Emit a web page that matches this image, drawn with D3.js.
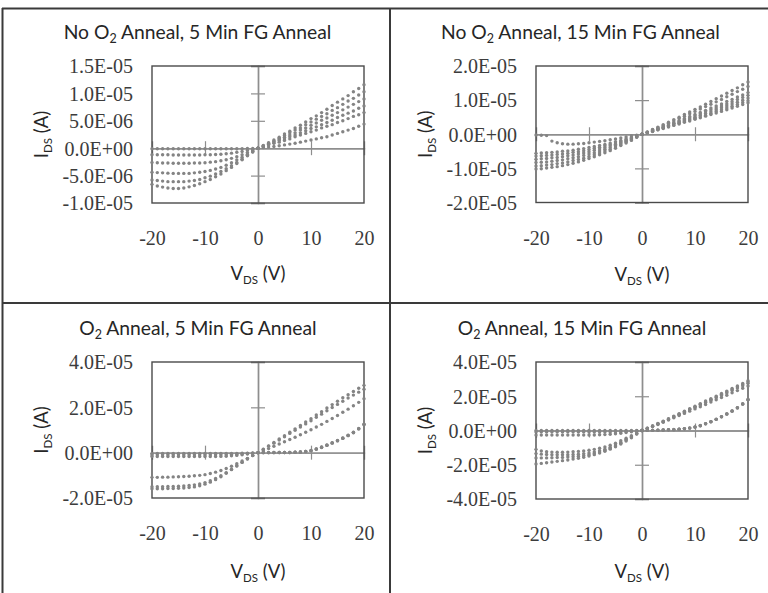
<!DOCTYPE html>
<html><head><meta charset="utf-8">
<script src="https://cdn.jsdelivr.net/npm/d3@7/dist/d3.min.js"></script>
<style>
html,body{margin:0;padding:0;background:#fff;}
svg{display:block;}
</style>
</head><body>
<svg id="chart" width="768" height="593"></svg>
<script>
// Drain voltage sweep (V)
const vds = [-20,-19,-18,-17,-16,-15,-14,-13,-12,-11,-10,-9,-8,-7,-6,-5,-4,-3,-2,-1,0,1,2,3,4,5,6,7,8,9,10,11,12,13,14,15,16,17,18,19,20];

// Drain currents in microamps (multiplied by 1e-6 when drawn)
// Panel 1: No O2 Anneal, 5 Min FG Anneal
const p1a = [-0.1,-0.1,-0.1,-0.1,-0.1,-0.1,-0.1,-0.1,-0.1,-0.1,-0.1,-0.1,-0.1,-0.1,-0.1,-0.1,-0.1,-0.1,-0.05,-0.05,0,0.1,0.2,0.3,0.45,0.6,0.75,0.9,1.1,1.3,1.5,1.7,1.9,2.1,2.4,2.7,3.0,3.3,3.6,4.0,4.4];
const p1b = [-1.2,-1.2,-1.2,-1.2,-1.25,-1.25,-1.25,-1.25,-1.25,-1.25,-1.2,-1.2,-1.15,-1.1,-1.0,-0.9,-0.75,-0.6,-0.4,-0.2,0,0.3,0.6,0.9,1.1,1.4,1.7,2.1,2.4,2.7,3.0,3.3,3.7,4.0,4.3,4.7,5.0,5.4,5.8,6.1,6.5];
const p1c = [-2.6,-2.65,-2.7,-2.7,-2.75,-2.75,-2.75,-2.75,-2.7,-2.7,-2.65,-2.55,-2.45,-2.3,-2.1,-1.85,-1.55,-1.2,-0.8,-0.4,0,0.3,0.7,1.0,1.4,1.7,2.1,2.4,2.8,3.2,3.6,3.9,4.3,4.7,5.1,5.6,6.0,6.4,6.8,7.3,7.7];
const p1d = [-4.4,-4.45,-4.5,-4.55,-4.6,-4.6,-4.6,-4.6,-4.5,-4.4,-4.25,-4.05,-3.8,-3.5,-3.1,-2.65,-2.15,-1.65,-1.1,-0.55,0,0.4,0.8,1.2,1.6,2.0,2.4,2.8,3.3,3.7,4.2,4.6,5.1,5.5,6.0,6.5,7.0,7.5,8.0,8.5,9.0];
const p1e = [-5.8,-5.9,-6.0,-6.1,-6.1,-6.1,-6.1,-6.0,-5.9,-5.7,-5.4,-5.1,-4.7,-4.25,-3.75,-3.2,-2.6,-2.0,-1.3,-0.65,0,0.4,0.9,1.3,1.8,2.3,2.8,3.3,3.7,4.3,4.8,5.3,5.8,6.3,6.9,7.4,8.0,8.6,9.1,9.7,10.3];
const p1f = [-6.6,-6.9,-7.1,-7.25,-7.35,-7.35,-7.25,-7.05,-6.8,-6.5,-6.1,-5.7,-5.2,-4.7,-4.1,-3.5,-2.8,-2.1,-1.4,-0.7,0,0.5,1.0,1.5,2.0,2.6,3.1,3.7,4.2,4.8,5.4,5.9,6.5,7.1,7.8,8.4,9.0,9.6,10.3,10.9,11.6];

// Panel 2: No O2 Anneal, 15 Min FG Anneal
const p2a = [-0.2,-0.3,-0.4,-2.0,-2.5,-2.8,-2.9,-2.9,-2.8,-2.7,-2.5,-2.3,-2.1,-1.9,-1.6,-1.4,-1.1,-0.8,-0.5,-0.25,0,0.4,0.8,1.3,1.7,2.1,2.6,3.0,3.5,3.9,4.4,4.8,5.3,5.8,6.2,6.7,7.2,7.7,8.2,8.7,9.2];
const p2b = [-5.6,-5.5,-5.4,-5.3,-5.2,-5.0,-4.9,-4.7,-4.4,-4.2,-3.9,-3.6,-3.3,-3.0,-2.6,-2.2,-1.8,-1.4,-1.0,-0.5,0,0.4,0.9,1.3,1.8,2.3,2.7,3.2,3.7,4.2,4.7,5.1,5.6,6.1,6.7,7.2,7.7,8.2,8.7,9.3,9.8];
const p2c = [-6.4,-6.3,-6.2,-6.1,-5.9,-5.8,-5.6,-5.3,-5.1,-4.8,-4.5,-4.1,-3.8,-3.4,-3.0,-2.6,-2.1,-1.6,-1.1,-0.6,0,0.5,1.0,1.5,2.0,2.5,3.0,3.5,4.0,4.5,5.0,5.6,6.1,6.6,7.2,7.8,8.3,8.9,9.4,10.0,10.6];
const p2d = [-7.3,-7.2,-7.1,-6.9,-6.8,-6.6,-6.3,-6.1,-5.8,-5.5,-5.1,-4.7,-4.3,-3.9,-3.4,-2.9,-2.4,-1.8,-1.3,-0.6,0,0.5,1.0,1.6,2.1,2.6,3.2,3.7,4.3,4.8,5.4,6.0,6.6,7.2,7.7,8.3,8.9,9.5,10.2,10.8,11.4];
const p2e = [-8.3,-8.2,-8.1,-7.9,-7.7,-7.5,-7.2,-6.9,-6.6,-6.2,-5.8,-5.4,-4.9,-4.4,-3.9,-3.3,-2.7,-2.1,-1.4,-0.7,0,0.55,1.1,1.7,2.2,2.8,3.4,4.0,4.6,5.2,5.8,6.4,7.0,7.7,8.3,8.9,9.6,10.2,10.9,11.5,12.2];
const p2f = [-9.3,-9.2,-9.0,-8.9,-8.6,-8.4,-8.1,-7.7,-7.4,-7.0,-6.5,-6.0,-5.5,-4.9,-4.4,-3.7,-3.1,-2.3,-1.6,-0.8,0,0.6,1.3,1.9,2.6,3.2,3.9,4.6,5.3,6.0,6.7,7.4,8.1,8.8,9.5,10.2,11.0,11.7,12.5,13.2,14.0];
const p2g = [-10.2,-10.1,-9.9,-9.7,-9.5,-9.2,-8.9,-8.5,-8.1,-7.6,-7.1,-6.6,-6.0,-5.4,-4.8,-4.1,-3.3,-2.6,-1.8,-0.9,0,0.7,1.4,2.1,2.8,3.5,4.3,5.0,5.8,6.5,7.3,8.0,8.8,9.6,10.4,11.2,12.0,12.8,13.6,14.5,15.3];

// Panel 3: O2 Anneal, 5 Min FG Anneal
const p3a = [-15.9,-15.9,-15.9,-15.8,-15.8,-15.7,-15.6,-15.4,-15.1,-14.6,-13.9,-13.0,-11.9,-10.6,-9.1,-7.5,-5.9,-4.3,-2.8,-1.3,0,1.5,3.0,4.5,6.0,7.5,9.0,10.5,12.0,13.5,15.0,16.6,18.1,19.7,21.2,22.7,24.2,25.6,27.0,28.4,29.7];
const p3b = [-15.0,-15.0,-15.0,-14.9,-14.9,-14.8,-14.7,-14.5,-14.2,-13.8,-13.2,-12.4,-11.4,-10.2,-8.8,-7.3,-5.8,-4.2,-2.7,-1.3,0,1.4,2.8,4.2,5.6,7.0,8.5,9.9,11.3,12.7,14.1,15.6,17.0,18.5,19.9,21.3,22.7,24.1,25.4,26.7,28.0];
const p3c = [-10.9,-10.9,-10.8,-10.8,-10.7,-10.6,-10.5,-10.4,-10.2,-10.0,-9.7,-9.2,-8.6,-7.9,-7.0,-6.0,-4.9,-3.7,-2.5,-1.2,0,0.9,1.8,2.8,3.8,4.8,5.8,6.8,7.9,9.0,10.1,11.3,12.5,13.8,15.1,16.4,17.8,19.2,20.7,22.2,23.8];
const p3d = [-0.3,-0.3,-0.3,-0.3,-0.3,-0.3,-0.3,-0.3,-0.3,-0.3,-0.3,-0.3,-0.3,-0.3,-0.3,-0.3,-0.3,-0.25,-0.2,-0.1,0,0.1,0.1,0.1,0.1,0.1,0.1,0.2,0.3,0.5,0.9,1.6,2.4,3.3,4.3,5.3,6.4,7.6,8.9,10.6,12.5];
const p3e = [-0.9,-0.9,-0.9,-0.9,-0.9,-0.9,-0.9,-0.9,-0.9,-0.9,-0.9,-0.9,-0.9,-0.9,-0.9,-0.85,-0.75,-0.6,-0.4,-0.2,0,0.0,0.0,0.1,0.1,0.1,0.1,0.2,0.3,0.5,0.9,1.5,2.3,3.2,4.2,5.2,6.3,7.5,8.8,10.4,12.3];
const p3f = [-1.7,-1.7,-1.7,-1.7,-1.7,-1.7,-1.7,-1.7,-1.7,-1.7,-1.7,-1.7,-1.7,-1.65,-1.55,-1.4,-1.2,-0.9,-0.6,-0.3,0,0.0,0.0,0.0,0.1,0.1,0.1,0.2,0.3,0.5,1.0,1.6,2.5,3.4,4.4,5.4,6.5,7.7,9.0,10.7,12.6];

// Panel 4: O2 Anneal, 15 Min FG Anneal
const p4a = [0.0,0.0,0.0,0.0,0.0,0.0,0.0,0.0,0.0,0.0,0.0,0.0,0.0,0.0,0.0,0.0,0.0,0.0,0.0,0.0,0,0.1,0.1,0.2,0.3,0.4,0.5,0.7,1.0,1.4,2.0,2.8,3.9,5.1,6.5,8.0,9.6,11.3,13.2,15.4,18.0];
const p4b = [-0.9,-0.9,-0.9,-0.9,-0.9,-0.9,-0.9,-0.9,-0.9,-0.9,-0.9,-0.9,-0.9,-0.9,-0.85,-0.8,-0.7,-0.55,-0.35,-0.15,0,0.1,0.1,0.2,0.3,0.4,0.5,0.7,1.0,1.4,2.0,2.8,3.9,5.1,6.5,8.0,9.6,11.4,13.3,15.5,18.1];
const p4c = [-2.7,-2.7,-2.7,-2.7,-2.7,-2.7,-2.7,-2.7,-2.7,-2.7,-2.65,-2.6,-2.5,-2.4,-2.2,-1.9,-1.6,-1.2,-0.8,-0.4,0,0.1,0.2,0.2,0.3,0.4,0.6,0.8,1.1,1.5,2.1,2.9,4.0,5.2,6.6,8.1,9.7,11.4,13.3,15.6,18.0];
const p4d = [-11.0,-12.0,-12.4,-12.6,-12.7,-12.7,-12.6,-12.4,-12.2,-11.9,-11.5,-11.0,-10.4,-9.6,-8.6,-7.4,-6.0,-4.5,-3.0,-1.5,0,1.1,2.3,3.5,4.8,6.1,7.4,8.7,10.0,11.3,12.6,13.9,15.2,16.6,17.9,19.3,20.6,22.0,23.3,24.7,26.0];
const p4e = [-13.5,-13.8,-14.0,-14.1,-14.2,-14.2,-14.1,-14.0,-13.8,-13.5,-13.1,-12.5,-11.8,-10.9,-9.8,-8.5,-7.0,-5.3,-3.6,-1.8,0,1.2,2.5,3.8,5.1,6.5,7.9,9.3,10.7,12.1,13.5,14.9,16.3,17.7,19.1,20.5,21.9,23.3,24.8,26.2,27.6];
const p4f = [-16.0,-16.0,-16.0,-15.9,-15.8,-15.7,-15.5,-15.3,-15.0,-14.6,-14.1,-13.4,-12.6,-11.6,-10.4,-9.0,-7.4,-5.6,-3.8,-1.9,0,1.3,2.6,3.9,5.3,6.7,8.1,9.5,11.0,12.4,13.8,15.3,16.7,18.2,19.6,21.1,22.5,24.0,25.5,26.9,28.4];
const p4g = [-19.5,-19.2,-18.8,-18.4,-18.0,-17.6,-17.2,-16.7,-16.2,-15.6,-14.9,-14.1,-13.2,-12.1,-10.9,-9.5,-7.9,-6.1,-4.2,-2.1,0,1.3,2.7,4.1,5.5,6.9,8.4,9.8,11.3,12.8,14.2,15.7,17.2,18.6,20.1,21.6,23.0,24.5,26.0,27.5,29.1];

// Axis ticks and labels
const xTicks = [-20,-10,0,10,20];
const xTickLabels = ["-20","-10","0","10","20"];
const yTicks1 = [-1e-5,-5e-6,0,5e-6,1e-5,1.5e-5];
const yTickLabels1 = ["-1.0E-05","-5.0E-06","0.0E+00","5.0E-06","1.0E-05","1.5E-05"];
const yTicks2 = [-2e-5,-1e-5,0,1e-5,2e-5];
const yTickLabels2 = ["-2.0E-05","-1.0E-05","0.0E+00","1.0E-05","2.0E-05"];
const yTicks3 = [-2e-5,0,2e-5,4e-5];
const yTickLabels3 = ["-2.0E-05","0.0E+00","2.0E-05","4.0E-05"];
const yTicks4 = [-4e-5,-2e-5,0,2e-5,4e-5];
const yTickLabels4 = ["-4.0E-05","-2.0E-05","0.0E+00","2.0E-05","4.0E-05"];

const titlePre = ["No O","No O","O","O"];
const titlePost = [" Anneal, 5 Min FG Anneal"," Anneal, 15 Min FG Anneal"," Anneal, 5 Min FG Anneal"," Anneal, 15 Min FG Anneal"];

const panels = [
  {pre:titlePre[0], post:titlePost[0], box:[152,364,66,203], ticks:yTicks1, labels:yTickLabels1, series:[p1a,p1b,p1c,p1d,p1e,p1f], tX:197.5, tY:38.5, xlY:279.5},
  {pre:titlePre[1], post:titlePost[1], box:[536,748,66,202.5], ticks:yTicks2, labels:yTickLabels2, series:[p2a,p2b,p2c,p2d,p2e,p2f,p2g], tX:580.5, tY:38.5, xlY:281},
  {pre:titlePre[2], post:titlePost[2], box:[152,364,362,498], ticks:yTicks3, labels:yTickLabels3, series:[p3a,p3b,p3c,p3d,p3e,p3f], tX:198, tY:335, xlY:577.5},
  {pre:titlePre[3], post:titlePost[3], box:[536,748,362,499], ticks:yTicks4, labels:yTickLabels4, series:[p4a,p4b,p4c,p4d,p4e,p4f,p4g], tX:582, tY:335, xlY:577.5}
];

const svg = d3.select("#chart");
svg.append("rect").attr("width",768).attr("height",593).attr("fill","#fff");

const sansFont = "Lato, 'Open Sans', sans-serif";
const serifFont = "'Liberation Serif', 'Times New Roman', serif";
const gridColor = "#3a3a3a";

// frame and dividers
svg.append("line").attr("x1",2).attr("x2",768).attr("y1",8.5).attr("y2",8.5).attr("stroke",gridColor).attr("stroke-width",2);
svg.append("line").attr("x1",2.5).attr("x2",2.5).attr("y1",8).attr("y2",593).attr("stroke",gridColor).attr("stroke-width",2);
svg.append("line").attr("x1",390).attr("x2",390).attr("y1",8).attr("y2",593).attr("stroke",gridColor).attr("stroke-width",2);
svg.append("line").attr("x1",2).attr("x2",768).attr("y1",303).attr("y2",303).attr("stroke",gridColor).attr("stroke-width",2);

panels.forEach(p => {
  const [x0,x1,y0,y1] = p.box;
  const x = d3.scaleLinear().domain([-20,20]).range([x0,x1]);
  const y = d3.scaleLinear().domain([p.ticks[0], p.ticks[p.ticks.length-1]]).range([y1,y0]);
  const g = svg.append("g");
  const cy = (y0+y1)/2;

  // title
  const t = g.append("text").attr("x", p.tX).attr("y", p.tY).attr("text-anchor","middle")
    .attr("font-family",sansFont).attr("font-size",19.3).attr("fill","#262626");
  t.append("tspan").text(p.pre);
  t.append("tspan").attr("font-size",12.5).attr("dy",4).text("2");
  t.append("tspan").attr("dy",-4).text(p.post);

  // zero-crossing axes with cross ticks
  const axColor = "#8e8e8e";
  const yTickInner = p.ticks.filter(v => v !== 0);
  const vL = g.append("g").attr("transform",`translate(${x(0)},0)`)
    .call(d3.axisLeft(y).tickValues(yTickInner).tickSize(7).tickFormat(""));
  const vR = g.append("g").attr("transform",`translate(${x(0)},0)`)
    .call(d3.axisRight(y).tickValues(yTickInner).tickSize(7).tickFormat(""));
  const hT = g.append("g").attr("transform",`translate(0,${y(0)})`)
    .call(d3.axisTop(x).tickValues([-10,10]).tickSize(7).tickFormat(""));
  const hB = g.append("g").attr("transform",`translate(0,${y(0)})`)
    .call(d3.axisBottom(x).tickValues([-10,10]).tickSize(7).tickFormat(""));
  [vL,vR,hT,hB].forEach(a => {
    a.selectAll("path.domain").attr("stroke",axColor).attr("stroke-width",1.4);
    a.selectAll(".tick line").attr("stroke",axColor).attr("stroke-width",1.2);
  });

  // plot border
  g.append("rect").attr("x",x0).attr("y",y0).attr("width",x1-x0).attr("height",y1-y0)
    .attr("fill","none").attr("stroke","#4a4a4a").attr("stroke-width",1.4);

  // tick labels via axes
  const yl = g.append("g").attr("transform",`translate(${x0},0)`)
    .call(d3.axisLeft(y).tickValues(p.ticks).tickSize(0).tickPadding(19)
      .tickFormat((d,i) => p.labels[i]));
  yl.select("path.domain").remove();
  yl.selectAll("text").attr("font-family",serifFont).attr("font-size",20).attr("fill","#3c3c3c").attr("dy","0.34em");

  const xl = g.append("g").attr("transform",`translate(0,${y1})`)
    .call(d3.axisBottom(x).tickValues(xTicks).tickSize(0).tickPadding(28)
      .tickFormat((d,i) => xTickLabels[i]));
  xl.select("path.domain").remove();
  xl.selectAll("text").attr("font-family",serifFont).attr("font-size",20).attr("fill","#3c3c3c");

  // axis titles
  const xt = g.append("text").attr("x",x(0)).attr("y",p.xlY).attr("text-anchor","middle")
    .attr("font-family",sansFont).attr("font-size",18.5).attr("fill","#262626");
  xt.append("tspan").text("V");
  xt.append("tspan").attr("font-size",11.5).attr("dy",4).text("DS");
  xt.append("tspan").attr("dy",-4).text(" (V)");

  const yt = g.append("text").attr("transform",`translate(${x0-104},${cy}) rotate(-90)`)
    .attr("text-anchor","middle").attr("font-family",sansFont).attr("font-size",18.5).attr("fill","#262626");
  yt.append("tspan").text("I");
  yt.append("tspan").attr("font-size",11.5).attr("dy",4).text("DS");
  yt.append("tspan").attr("dy",-4).text(" (A)");

  // data points
  p.series.forEach(s => {
    g.append("g").selectAll("circle").data(vds.map((v,i) => [v, s[i]*1e-6])).join("circle")
      .attr("cx", d => x(d[0])).attr("cy", d => y(d[1])).attr("r",1.7)
      .attr("fill","#848484");
  });
});
</script>
</body></html>
